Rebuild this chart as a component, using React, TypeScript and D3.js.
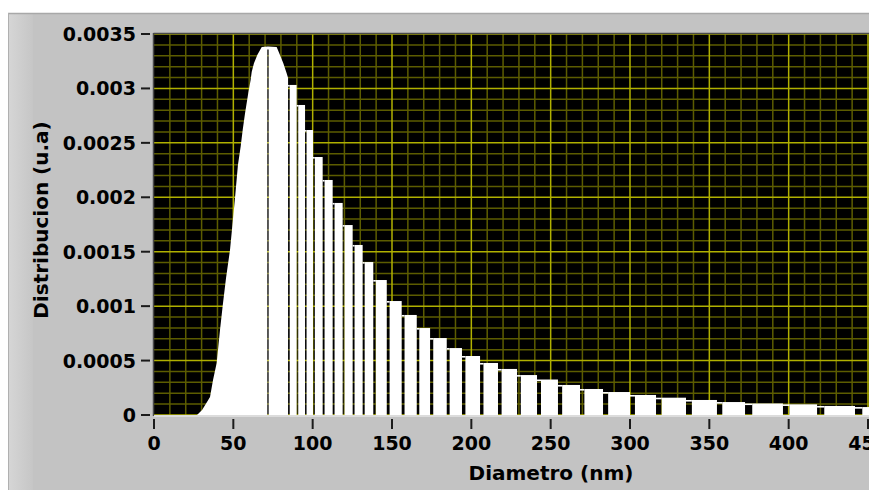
import React from 'react';
import * as d3 from 'd3';

const xTickValues = [0, 50, 100, 150, 200, 250, 300, 350, 400, 450];
const xTickLabels = ['0', '50', '100', '150', '200', '250', '300', '350', '400', '450'];
const yTickValues = [0, 0.0005, 0.001, 0.0015, 0.002, 0.0025, 0.003, 0.0035];
const yTickLabels = ['0', '0.0005', '0.001', '0.0015', '0.002', '0.0025', '0.003', '0.0035'];

// smooth rising part of the distribution (diameter nm -> value)
const curveDiameters = [27.1, 30.3, 33.4, 35.3, 37.2, 39.5, 41.6, 43.3, 45.4, 47.9, 51.0, 52.9, 54.6, 55.9, 57.4, 59.4, 60.9, 61.6, 63.0, 65.1, 67.9, 71.8, 77.3, 79.4, 81.5, 83.6, 84.5];
const curveValues = [0, 0.000046, 0.000119, 0.000165, 0.000322, 0.000478, 0.000781, 0.001004, 0.001259, 0.001516, 0.001984, 0.002297, 0.002465, 0.002618, 0.002774, 0.002955, 0.003077, 0.003154, 0.003231, 0.003307, 0.003381, 0.003385, 0.003381, 0.003307, 0.003231, 0.003139, 0.003096];

// diameter where the first separator line appears inside the smooth part
const peakLineDiameter = 71.8;

// stepped bins (left edges + final right edge) and their values
const binEdges = [84.5, 89.9, 95.2, 100.2, 106.3, 112.6, 118.9, 125.2, 131.5, 138.2, 146.7, 156.1, 165.6, 174.0, 184.5, 194.1, 205.5, 216.8, 228.8, 241.4, 254.6, 268.5, 283.0, 300.0, 316.4, 335.3, 354.8, 372.5, 396.4, 417.9, 441.8, 466.0];
const binValues = [0.003032, 0.002848, 0.002618, 0.002370, 0.002159, 0.001948, 0.001745, 0.001562, 0.001405, 0.001240, 0.001047, 0.000919, 0.000799, 0.000707, 0.000615, 0.000542, 0.000478, 0.000423, 0.000367, 0.000326, 0.000276, 0.000239, 0.000211, 0.000184, 0.000159, 0.000138, 0.000119, 0.000106, 0.000098, 0.000083, 0.000073];

const W = 869;
const H = 490;
const PL = 154;
const PT = 34;
const PB = 415;

export default function App() {
  const x = d3.scaleLinear().domain([0, 450]).range([PL, 868]);
  const y = d3.scaleLinear().domain([0, 0.0035]).range([PB, PT]);

  const minorX = d3.range(0, 560, 10).filter((v) => v % 50 !== 0);
  const majorX = d3.range(50, 560, 50);
  const minorY = d3.range(0, 36).map((i) => i * 0.0001).filter((_, i) => i % 5 !== 0);
  const majorY = yTickValues;

  const pts = curveDiameters.map((d, i) => [d, curveValues[i]] as [number, number]);
  const area = d3
    .area<[number, number]>()
    .x((p) => x(p[0]))
    .y0(y(0))
    .y1((p) => y(p[1]))(pts) as string;

  const peakVal = d3.scaleLinear().domain(curveDiameters).range(curveValues)(peakLineDiameter);
  const px = x(peakLineDiameter);

  const font = "'DejaVu Sans', Verdana, sans-serif";

  return (
    <svg width={W} height={H} style={{ position: 'absolute', left: 0, top: 0, background: '#ffffff' }}>
      <defs>
        <linearGradient id="leftBand" x1="0" x2="1" y1="0" y2="0">
          <stop offset="0" stopColor="#d6d6d6" />
          <stop offset="1" stopColor="#c6c6c6" />
        </linearGradient>
        <clipPath id="plotClip">
          <rect x={PL} y={PT} width={W - PL} height={PB - PT} />
        </clipPath>
        <mask id="peakMask">
          <rect x={0} y={0} width={W} height={H} fill="#fff" />
          <rect x={px - 0.6} y={y(peakVal) + 3} width={1.3} height={PB - y(peakVal)} fill="#000" />
        </mask>
      </defs>

      {/* panel */}
      <rect x={8} y={13} width={W - 8} height={H - 13} fill="#c3c3c3" />
      <rect x={8} y={13} width={25} height={H - 13} fill="url(#leftBand)" />
      <line x1={8} x2={W} y1={13.5} y2={13.5} stroke="#a8a8a8" strokeWidth={1.5} />
      <line x1={8.5} x2={8.5} y1={13} y2={H} stroke="#b0b0b0" strokeWidth={1} />

      {/* plot area */}
      <g clipPath="url(#plotClip)">
        <rect x={PL} y={PT} width={W - PL} height={PB - PT} fill="#000" />
        {minorX.map((v) => (
          <line key={'mx' + v} x1={x(v)} x2={x(v)} y1={PT} y2={PB} stroke="#5c5c00" strokeWidth={1.5} />
        ))}
        {minorY.map((v, i) => (
          <line key={'my' + i} x1={PL} x2={W} y1={y(v)} y2={y(v)} stroke="#5c5c00" strokeWidth={1.5} />
        ))}
        {majorX.map((v) => (
          <line key={'Mx' + v} x1={x(v)} x2={x(v)} y1={PT} y2={PB} stroke="#b0b000" strokeWidth={1.5} />
        ))}
        {majorY.map((v, i) => (
          <line key={'My' + i} x1={PL} x2={W} y1={y(v)} y2={y(v)} stroke="#b0b000" strokeWidth={1.5} />
        ))}

        {/* smooth part */}
        <path d={area} fill="#fff" mask="url(#peakMask)" />

        {/* stepped bars with gaps */}
        {binValues.map((v, i) => {
          const x0 = x(binEdges[i]);
          const x1 = x(binEdges[i + 1]);
          const w = x1 - x0;
          const g = Math.max(1.3, 0.19 * w);
          const top = y(v);
          return (
            <g key={'b' + i}>
              <rect x={x0 + g} y={top} width={w - g} height={PB - top} fill="#fff" />
              <rect x={x0} y={top} width={g} height={1.6} fill="#fff" />
            </g>
          );
        })}
      </g>

      {/* plot border */}
      <line x1={PL - 0.5} x2={W} y1={PT - 0.5} y2={PT - 0.5} stroke="#4a4a4a" strokeWidth={1.5} />
      <line x1={PL - 0.5} x2={PL - 0.5} y1={PT - 1} y2={PB + 1} stroke="#4a4a4a" strokeWidth={1.5} />
      <line x1={PL} x2={W} y1={PB + 1} y2={PB + 1} stroke="#e4e4e4" strokeWidth={1.5} />

      {/* y axis */}
      {yTickValues.map((v, i) => (
        <g key={'yt' + i}>
          <line x1={141} x2={150} y1={y(v)} y2={y(v)} stroke="#1a1a1a" strokeWidth={2} />
          <text x={136} y={y(v) + 7} textAnchor="end" fontFamily={font} fontWeight="bold" fontSize={19} fill="#000">
            {yTickLabels[i]}
          </text>
        </g>
      ))}

      {/* x axis */}
      {xTickValues.map((v, i) => (
        <g key={'xt' + i}>
          <line x1={x(v)} x2={x(v)} y1={419} y2={429} stroke="#1a1a1a" strokeWidth={2} />
          <text x={x(v)} y={450} textAnchor="middle" fontFamily={font} fontWeight="bold" fontSize={19} fill="#000">
            {xTickLabels[i]}
          </text>
        </g>
      ))}

      <text x={551} y={480} textAnchor="middle" fontFamily={font} fontWeight="bold" fontSize={20} fill="#000">
        Diametro (nm)
      </text>
      <text
        transform="translate(48,220) rotate(-90)"
        textAnchor="middle"
        fontFamily={font}
        fontWeight="bold"
        fontSize={20}
        fill="#000"
      >
        Distribucion (u.a)
      </text>
    </svg>
  );
}
